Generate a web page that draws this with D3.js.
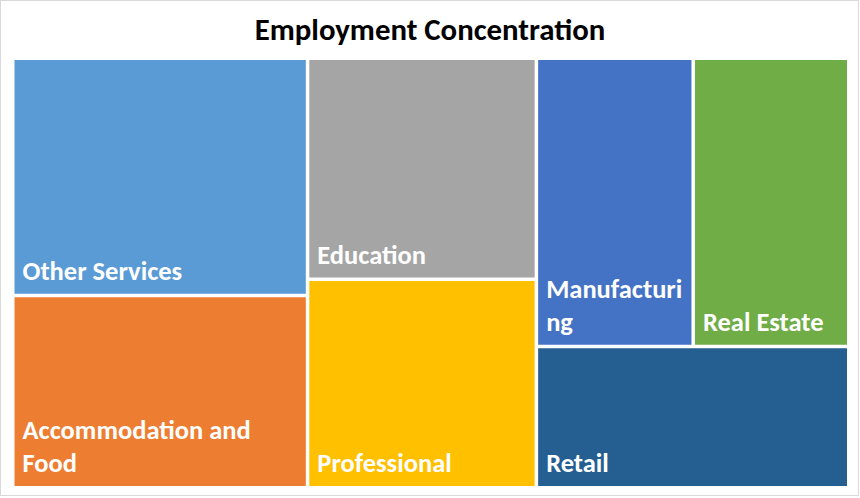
<!DOCTYPE html>
<html>
<head>
<meta charset="utf-8">
<script src="https://cdn.jsdelivr.net/npm/d3@7"></script>
<style>
  body { margin: 0; background: #fff; }
  svg { display: block; }
</style>
</head>
<body>
<svg id="chart"></svg>
<script>
// employment share by sector (%)
const sectors = ["Other Services", "Accommodation and Food", "Education", "Professional", "Manufacturing", "Real Estate", "Retail"];
const shares = [19.5, 15.8, 14.1, 13.3, 12.6, 12.5, 12.3];
// label lines as they wrap in the original
const labelLines = [
  ["Other Services"],
  ["Accommodation and", "Food"],
  ["Education"],
  ["Professional"],
  ["Manufacturi", "ng"],
  ["Real Estate"],
  ["Retail"]
];
const colors = ["#5B9BD5", "#ED7D31", "#A5A5A5", "#FFC000", "#4472C4", "#70AD47", "#255E91"];

const width = 860;
const height = 498;
const mapLeft = 14.5, mapTop = 60, mapRight = 847, mapBottom = 486;
const fontFamily = "Carlito, Calibri, Lato, sans-serif";

let svg = d3.select("#chart")
  .attr("width", width)
  .attr("height", height);

// light frame round the chart area
svg.append("rect")
  .attr("x", 0.5)
  .attr("y", 0.5)
  .attr("width", width - 2)
  .attr("height", height - 3)
  .attr("fill", "#fff")
  .attr("stroke", "#d9d9d9");

svg.append("text")
  .text("Employment Concentration")
  .attr("x", 430)
  .attr("y", 40)
  .attr("text-anchor", "middle")
  .attr("font-family", fontFamily)
  .attr("font-weight", "bold")
  .attr("font-size", 30.8)
  .attr("fill", "#000");

let root = d3.hierarchy({
    children: sectors.map((s, i) => ({ name: s, value: shares[i], lines: labelLines[i], color: colors[i] }))
  })
  .sum((d) => d.value || 0);

d3.treemap()
  .tile(d3.treemapSquarify.ratio(1))
  .size([mapRight - mapLeft, mapBottom - mapTop])
  .paddingInner(3.5)(root);

let cells = svg.append("g")
  .attr("transform", "translate(" + mapLeft + "," + mapTop + ")")
  .selectAll("g")
  .data(root.leaves())
  .enter()
  .append("g")
  .attr("transform", (d) => "translate(" + d.x0 + "," + d.y0 + ")");

cells.append("rect")
  .attr("width", (d) => d.x1 - d.x0)
  .attr("height", (d) => d.y1 - d.y0)
  .attr("fill", (d) => d.data.color);

const lineHeight = 33;
cells.append("text")
  .attr("font-family", fontFamily)
  .attr("font-weight", "bold")
  .attr("font-size", 26.5)
  .attr("fill", "#fff")
  .selectAll("tspan")
  .data((d) => d.data.lines.map((l, i, arr) => ({ text: l, h: d.y1 - d.y0, fromBottom: arr.length - 1 - i })))
  .enter()
  .append("tspan")
  .attr("x", 8)
  .attr("y", (t) => t.h - 13.5 - t.fromBottom * lineHeight)
  .text((t) => t.text);
</script>
</body>
</html>
